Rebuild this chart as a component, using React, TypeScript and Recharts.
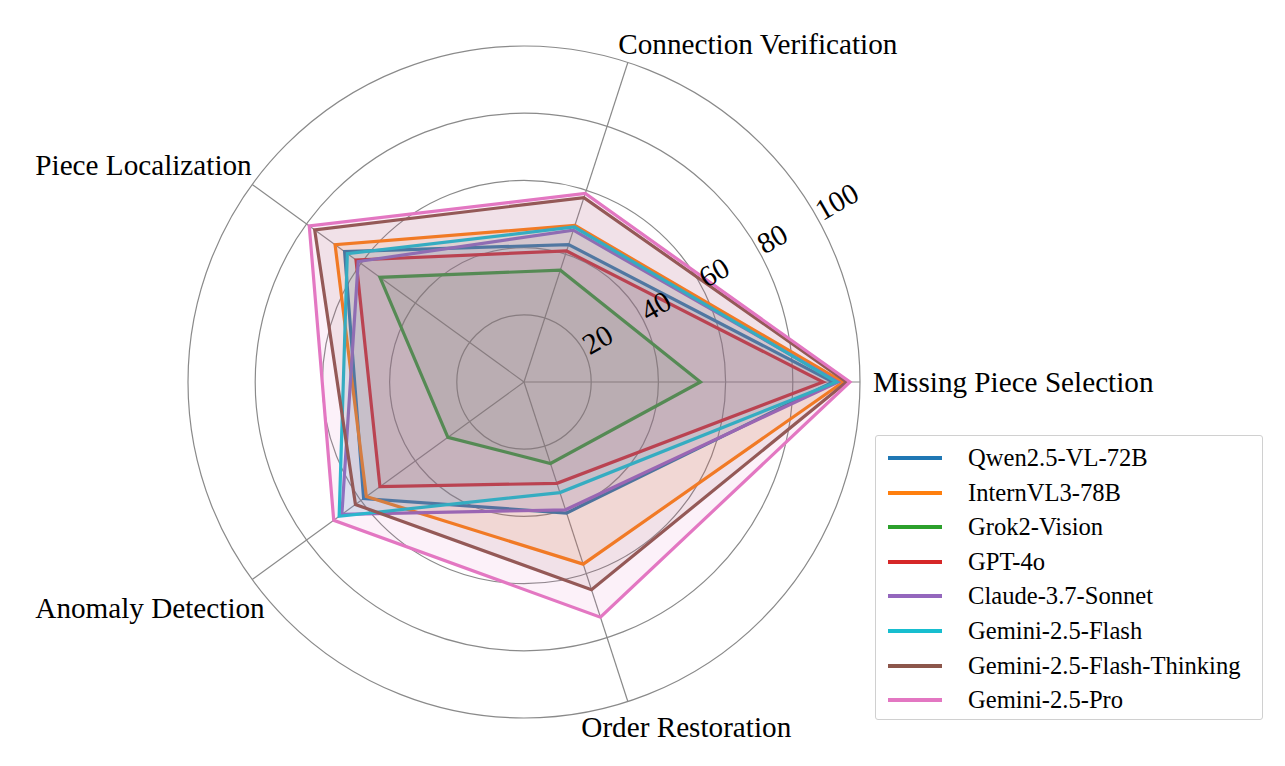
import React from "react"
import {
  RadarChart,
  Radar,
  PolarGrid,
  PolarAngleAxis,
  PolarRadiusAxis,
  Legend,
} from "recharts"

const tasks = [
  "Missing Piece Selection",
  "Connection Verification",
  "Piece Localization",
  "Anomaly Detection",
  "Order Restoration",
]

// scores per task, same order as `tasks`
const qwen = [92, 43, 66, 59, 41]
const internvl = [95, 49, 69.5, 58, 57]
const grok = [52.5, 35, 53, 28, 25.5]
const gpt4o = [89, 41, 61.8, 53, 31.7]
const claude = [93.5, 47.5, 61, 67, 40]
const geminiFlash = [93, 48.5, 65, 68, 34.6]
const geminiThinking = [96, 57.7, 77, 62, 65]
const geminiPro = [97, 59, 79, 70, 73.6]

const radiusTicks = [0, 20, 40, 60, 80, 100]

const models = [
  { key: "qwen", name: "Qwen2.5-VL-72B", color: "#1f77b4", values: qwen },
  { key: "internvl", name: "InternVL3-78B", color: "#ff7f0e", values: internvl },
  { key: "grok", name: "Grok2-Vision", color: "#2ca02c", values: grok },
  { key: "gpt4o", name: "GPT-4o", color: "#d62728", values: gpt4o },
  { key: "claude", name: "Claude-3.7-Sonnet", color: "#9467bd", values: claude },
  { key: "geminiFlash", name: "Gemini-2.5-Flash", color: "#17becf", values: geminiFlash },
  { key: "geminiThinking", name: "Gemini-2.5-Flash-Thinking", color: "#8c564b", values: geminiThinking },
  { key: "geminiPro", name: "Gemini-2.5-Pro", color: "#e377c2", values: geminiPro },
]

// the chart goes counter-clockwise from 3 o'clock; recharts walks clockwise,
// so feed the rows in reverse order after the first one
const drawOrder = [0, 4, 3, 2, 1]

const data = drawOrder.map((i) => {
  const row: Record<string, string | number> = { task: tasks[i] }
  models.forEach((m) => {
    row[m.key] = m.values[i]
  })
  return row
})

const FONT = '"Liberation Serif", "Times New Roman", serif'
const GRID = "#8a8a8a"

// label placement around the rim (relative to the tick point)
const labelOffsets: Record<string, { dx: number; dy: number; anchor: string }> = {
  "Missing Piece Selection": { dx: 5, dy: 0, anchor: "start" },
  "Connection Verification": { dx: -12, dy: -11, anchor: "start" },
  "Piece Localization": { dx: 6, dy: -15, anchor: "end" },
  "Anomaly Detection": { dx: 19, dy: 24, anchor: "end" },
  "Order Restoration": { dx: -49, dy: 18, anchor: "start" },
}

const AngleTick = (props: any) => {
  const { x, y, payload } = props
  const o = labelOffsets[payload.value] || { dx: 0, dy: 0, anchor: "middle" }
  return (
    <text
      x={x + o.dx}
      y={y + o.dy}
      textAnchor={o.anchor}
      dominantBaseline="central"
      fontSize={29.2}
      fontFamily={FONT}
      fill="#000"
    >
      {payload.value}
    </text>
  )
}

const RadiusTick = (props: any) => {
  const { x, y, payload } = props
  if (payload.value === 0) return <g />
  return (
    <text
      x={x + 3}
      y={y}
      transform={`rotate(-30, ${x}, ${y})`}
      textAnchor="start"
      dominantBaseline="central"
      fontSize={29.5}
      fontFamily={FONT}
      fill="#000"
    >
      {payload.value}
    </text>
  )
}

const LegendBox = () => (
  <div
    style={{
      position: "relative",
      width: 386,
      height: 283,
      border: "1px solid #d0d0d0",
      borderRadius: 3,
      background: "rgba(255,255,255,0.8)",
      fontFamily: FONT,
      fontSize: 24.6,
      color: "#000",
    }}
  >
    {models.map((m, i) => (
      <div
        key={m.key}
        style={{
          position: "absolute",
          left: 12,
          top: 4.7 + i * 34.6,
          height: 34.6,
          display: "flex",
          alignItems: "center",
          whiteSpace: "nowrap",
        }}
      >
        <span style={{ width: 54, height: 4, background: m.color, display: "inline-block" }} />
        <span style={{ marginLeft: 26 }}>{m.name}</span>
      </div>
    ))}
  </div>
)

export default function App() {
  return (
    <div style={{ position: "absolute", left: 0, top: 0, width: 1285, height: 766, background: "#fff" }}>
      <RadarChart
        width={1285}
        height={766}
        data={data}
        cx={524}
        cy={382}
        outerRadius={336}
        startAngle={0}
        endAngle={-360}
        margin={{ top: 0, right: 0, bottom: 0, left: 0 }}
      >
        <PolarGrid gridType="circle" stroke={GRID} strokeWidth={1.2} />
        <PolarAngleAxis
          dataKey="task"
          tick={AngleTick}
          tickLine={false}
          axisLine={false}
          tickSize={8}
        />
        {models.map((m) => (
          <Radar
            key={m.key}
            name={m.name}
            dataKey={m.key}
            stroke={m.color}
            strokeWidth={3.2}
            strokeOpacity={1}
            fill={m.color}
            fillOpacity={0.1}
            dot={false}
            isAnimationActive={false}
          />
        ))}
        <PolarRadiusAxis
          angle={30}
          domain={[0, 100]}
          ticks={radiusTicks as any}
          tickCount={6}
          tick={RadiusTick}
          axisLine={false}
          tickLine={false}
        />
        <Legend
          content={() => <LegendBox />}
          wrapperStyle={{ left: 875, top: 435, width: 388, height: 285 }}
        />
      </RadarChart>
    </div>
  )
}
